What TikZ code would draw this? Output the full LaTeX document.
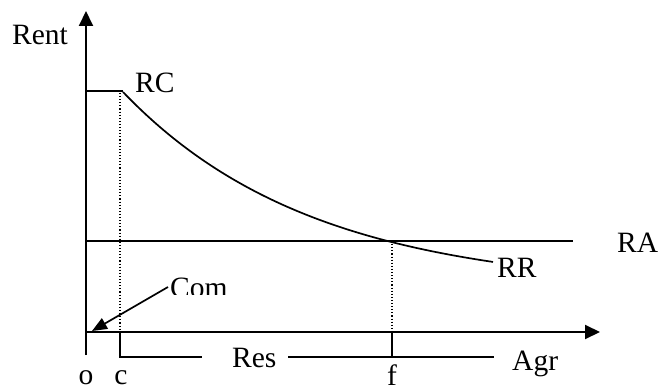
\documentclass[tikz,border=0pt]{standalone}
\usepackage{fontspec}
\setmainfont{Liberation Serif}
\usetikzlibrary{arrows.meta}
\begin{document}
\begin{tikzpicture}[x=1pt,y=-1pt,
  lbl/.style={anchor=base west,inner sep=0pt,font=\fontsize{29.5}{32}\selectfont},
  lblc/.style={anchor=base,inner sep=0pt,font=\fontsize{29.5}{32}\selectfont},
  thinline/.style={line width=1.7pt},
  axisline/.style={line width=2pt,-{Triangle[length=15pt,width=14pt]}},
  guide/.style={dotted,line width=1.1pt}]
\useasboundingbox[fill=white] (0,0) rectangle (660,390);
% coordinates
\coordinate (O) at (86,332);
\coordinate (Ytop) at (86,11);
\coordinate (Xend) at (600,332);
\coordinate (Obot) at (86,355);
\coordinate (RCl) at (86,91);
\coordinate (RCs) at (123,91);
\coordinate (Cax) at (120,332);
\coordinate (Cbot) at (120,357);
\coordinate (ResL) at (202,357);
\coordinate (ResR) at (288,357);
\coordinate (AgrL) at (494,357);
\coordinate (F) at (392,241);
\coordinate (Fax) at (392,333);
\coordinate (Fbot) at (392,357);
\coordinate (RAl) at (86,241);
\coordinate (RAr) at (573,241);
\coordinate (ComS) at (168,287);
\coordinate (ComT) at (92,331);
% axes
\draw[axisline] (Obot) -- (Ytop);
\draw[axisline] (O) -- (Xend);
% RC plateau
\draw[thinline] (RCl) -- (RCs);
% curve RR
\draw[thinline] plot[domain=123:493,samples=90] (\x,{290-198*exp(-0.00528*(\x-123))});
% RA line
\draw[thinline] (RAl) -- (RAr);
% dotted guides
\draw[guide] (120,93) -- (Cax);
\draw[guide] (F) -- (Fax);
% bottom zone lines
\draw[thinline] (Cax) -- (Cbot) -- (ResL);
\draw[thinline] (ResR) -- (AgrL);
\draw[thinline] (Fax) -- (Fbot);
% Com arrow
\draw[thinline,-{Triangle[length=15pt,width=12pt]}] (ComS) -- (ComT);
% labels
\node[lbl] (rent) at (12,45) {Rent};
\node[lbl] (rc) at (135,93) {RC};
\node[lbl] (ra) at (617,252) {RA};
\node[lbl] (rr) at (497,277) {RR};
\node[lbl] (agr) at (512,370) {Agr};
\node[lbl] (res) at (232,367) {Res};
\node[lblc] (o) at (86,384) {o};
\node[lblc] (c) at (121,384) {c};
\node[lblc] (f) at (392,385) {f};
\begin{scope}
\clip (150,260) rectangle (260,294);
\node[lbl] (com) at (170,297) {Com};
\end{scope}
\end{tikzpicture}
\end{document}
